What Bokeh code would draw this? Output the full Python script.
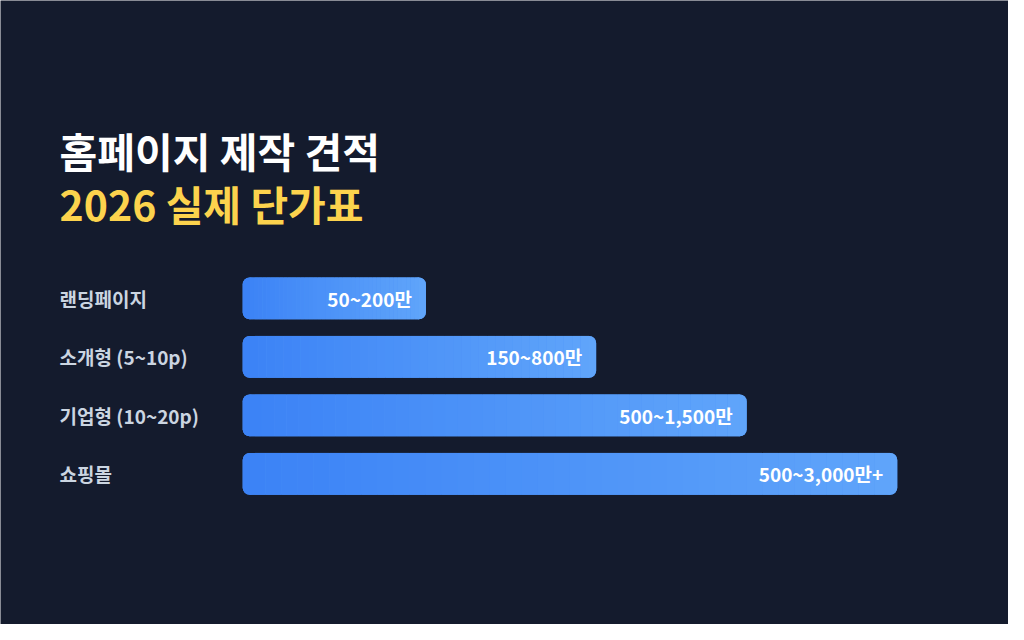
import numpy as np
from bokeh.plotting import figure
from bokeh.models import Range1d
from bokeh.core.properties import value
from bokeh.embed import file_html
from bokeh.resources import INLINE

# ---- data ----
title_line1 = "홈페이지 제작 견적"
title_line2 = "2026 실제 단가표"
categories = ["랜딩페이지", "소개형 (5~10p)", "기업형 (10~20p)", "쇼핑몰"]
price_labels = ["50~200만", "150~800만", "500~1,500만", "500~3,000만+"]
bar_length = [28, 54, 77, 100]  # relative bar length (%)

# ---- style / layout ----
BG = "#141b2d"
C_LEFT = (59, 130, 246)
C_RIGHT = (96, 165, 250)
FONT = "Noto Sans CJK KR"
W, H = 1008, 624
SX, SY = W / 1024, H / 640
PX = 6.65 * SX          # pixels per unit of bar length
X0 = 246 * SX           # bar origin (px from left)
ROW0 = 305.5 * SY       # centre of first row (px from top)
ROW = 60 * SY           # row pitch (px)
R = 7                   # corner radius (px)
BAR_H = 43 * SY / ROW


def px2x(px):
    return (px * SX - X0) / PX


def px2y(py):
    return (py * SY - ROW0) / ROW


def mix(t):
    c = [round(a + (b - a) * t) for a, b in zip(C_LEFT, C_RIGHT)]
    return "#%02x%02x%02x" % tuple(c)


p = figure(width=W, height=H, output_backend="svg", toolbar_location=None,
           x_range=Range1d(-X0 / PX, (W - X0) / PX),
           y_range=Range1d((H - ROW0) / ROW, -ROW0 / ROW),
           min_border=0, background_fill_color=BG, border_fill_color=BG,
           outline_line_color=None)
p.axis.visible = False
p.grid.visible = False

ys = list(range(len(categories)))
cap = 2 * R / PX
n = len(ys)

# full rounded underlay, then rounded end caps
p.hbar(y=ys, left=[0] * n, right=bar_length, height=BAR_H,
       fill_color=mix(0.5), line_color=None, border_radius=R)
p.hbar(y=ys, left=[0] * n, right=[cap] * n, height=BAR_H,
       fill_color=mix(0), line_color=None, border_radius=R)
p.hbar(y=ys, left=[L - cap for L in bar_length], right=bar_length, height=BAR_H,
       fill_color=mix(1), line_color=None, border_radius=R)

# gradient body made of adjacent thin slices
N = 40
ql, qr, qt, qb, qc = [], [], [], [], []
for y, L in zip(ys, bar_length):
    edges = np.linspace(R / PX, L - R / PX, N + 1)
    for a, b in zip(edges[:-1], edges[1:]):
        ql.append(a)
        qr.append(b)
        qt.append(y - BAR_H / 2)
        qb.append(y + BAR_H / 2)
        qc.append(mix(((a + b) / 2) / L))
p.quad(left=ql, right=qr, top=qt, bottom=qb, fill_color=qc, line_color=None)

# value labels inside bars
p.text(x=bar_length, y=ys, text=price_labels, x_offset=-14,
       text_align="right", text_baseline="middle", text_color="#ffffff",
       text_font=value(FONT), text_font_style="bold", text_font_size="19px")

# category labels
p.text(x=[px2x(60)] * n, y=ys, text=categories,
       text_align="left", text_baseline="middle", text_color="#cbd5e1",
       text_font=value(FONT), text_font_style="bold", text_font_size="19px")

# title
p.text(x=[px2x(60)], y=[px2y(153)], text=[title_line1],
       text_align="left", text_baseline="middle", text_color="#ffffff",
       text_font=value(FONT), text_font_style="bold", text_font_size="41px")
p.text(x=[px2x(60)], y=[px2y(208)], text=[title_line2],
       text_align="left", text_baseline="middle", text_color="#fcd34d",
       text_font=value(FONT), text_font_style="bold", text_font_size="41px")

open("out.html", "w").write(file_html(p, INLINE))
